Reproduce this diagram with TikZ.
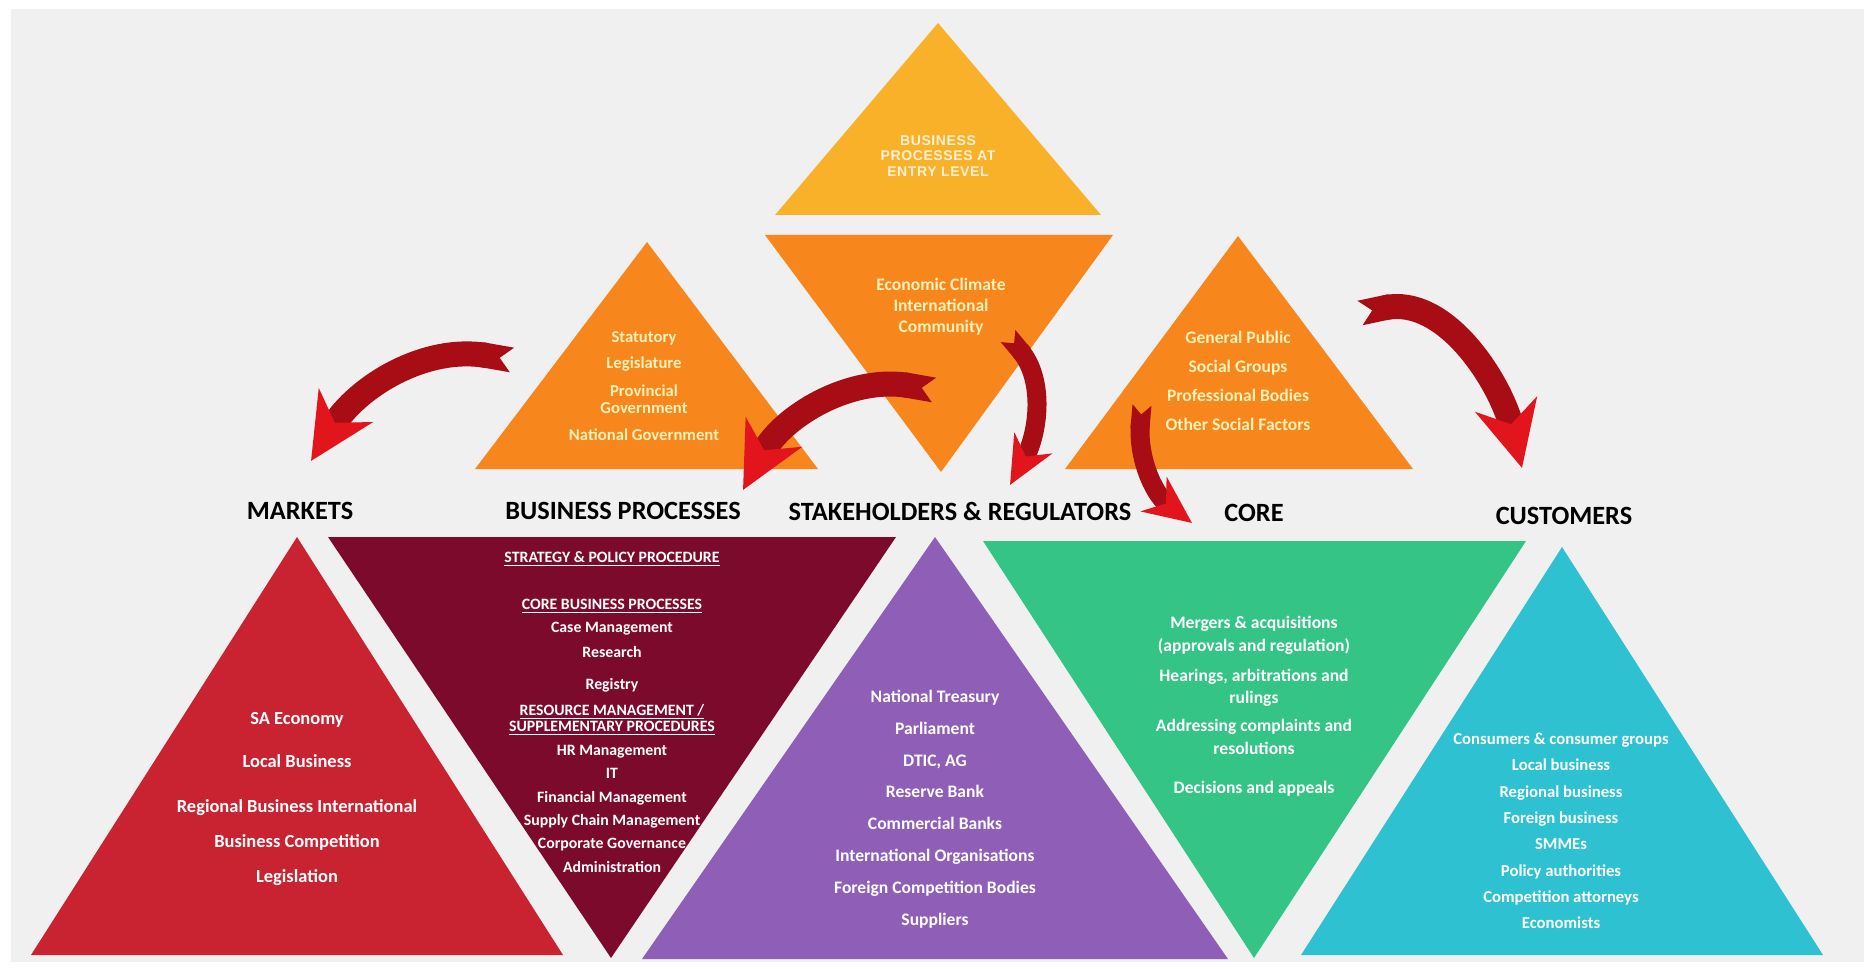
\documentclass[tikz,border=0pt]{standalone}
\usepackage{fontspec}
\setmainfont{Carlito}
\newfontfamily\entryfont[LetterSpace=4]{Liberation Sans}
\usepackage{tikz}
\usetikzlibrary{arrows, arrows.meta}
\usetikzlibrary{positioning}
\usepackage{xcolor}

\definecolor{bggrey}{HTML}{F1F0F0}
\definecolor{entryyellow}{HTML}{FAB12A}
\definecolor{factorange}{HTML}{F7871D}
\definecolor{marketred}{HTML}{C92231}
\definecolor{processmaroon}{HTML}{7B0A2C}
\definecolor{stakepurple}{HTML}{8F5FB8}
\definecolor{coregreen}{HTML}{34C486}
\definecolor{custcyan}{HTML}{2EC1D1}
\definecolor{arrowdark}{HTML}{A80D15}
\definecolor{arrowbright}{HTML}{E2141C}
\definecolor{paletext}{HTML}{FFF1B8}
\definecolor{entrytextcol}{HTML}{FDF0D8}

\tikzset{
  heading/.style={text=black, font=\fontsize{15}{18}\selectfont\bfseries},
  whitetext/.style={align=center, text=white},
  orangetext/.style={align=center, text=paletext},
  bigarrow/.style={line width=0.5cm, draw=arrowdark,
    {Triangle Cap[reversed]}-{Stealth[length=1.3cm, width=1.25cm, inset=0.4cm, color=arrowbright]}},
  smallarrow/.style={line width=0.38cm, draw=arrowdark,
    {Triangle Cap[reversed]}-{Stealth[length=0.95cm, width=0.85cm, inset=0.3cm, color=arrowbright]}},
}

\begin{document}
\begin{tikzpicture}[x=0.02cm, y=-0.02cm]

\useasboundingbox (0,0) rectangle (1872,969);
\fill[white] (0,0) rectangle (1872,969);
\fill[bggrey] (11,9) rectangle (1864,962);

%top triangles
\fill[entryyellow] (938,23) -- (1101,215) -- (775,215) -- cycle;
\fill[factorange] (647,242) -- (818,469) -- (475,469) -- cycle;
\fill[factorange] (765,235) -- (1113,235) -- (941,472) -- cycle;
\fill[factorange] (1238,236) -- (1413,469) -- (1065,469) -- cycle;

%bottom triangles
\fill[marketred] (297,537) -- (563,955) -- (31,955) -- cycle;
\fill[processmaroon] (328,537) -- (896,537) -- (611,958) -- cycle;
\fill[stakepurple] (935,537) -- (1228,959) -- (642,959) -- cycle;
\fill[coregreen] (983,541) -- (1526,541) -- (1254,958) -- cycle;
\fill[custcyan] (1562,547) -- (1823,955) -- (1301,955) -- cycle;

%top texts
\node [align=center, text=entrytextcol, font=\entryfont\fontsize{8}{9}\selectfont\bfseries] (entry) at (938,156)
  {BUSINESS\\PROCESSES AT\\ENTRY LEVEL};
\node [orangetext, font=\fontsize{9.5}{10}\selectfont\bfseries] (statutory) at (644,386)
  {Statutory\\[4.7pt]Legislature\\[5.9pt]Provincial\\Government\\[5.3pt]National Government};
\node [orangetext, font=\fontsize{10}{11.9}\selectfont\bfseries] (climate) at (941,307)
  {Economic Climate\\International\\Community};
\node [orangetext, font=\fontsize{10}{16.4}\selectfont\bfseries] (public) at (1238,381)
  {General Public\\Social Groups\\Professional Bodies\\Other Social Factors};

%labels
\node [heading] (markets) at (300,511) {MARKETS};
\node [heading] (processes) at (623,511) {BUSINESS PROCESSES};
\node [heading] (stakeholders) at (960,511) {STAKEHOLDERS \& REGULATORS};
\node [heading] (core) at (1254,513) {CORE};
\node [heading] (customers) at (1564,516) {CUSTOMERS};

%bottom texts
\node [whitetext, font=\fontsize{10.5}{19.8}\selectfont\bfseries] (economy) at (297,799)
  {SA Economy\\[4.5pt]Local Business\\[5.7pt]Regional Business International\\Business Competition\\Legislation};
\node [whitetext, font=\fontsize{9}{13.3}\selectfont\bfseries] (procedures) at (612,712)
  {\underline{STRATEGY \& POLICY PROCEDURE}\\[13.3pt]\underline{CORE BUSINESS PROCESSES}\\Case Management\\[0.8pt]Research\\[4.8pt]Registry\\[1.4pt]\underline{RESOURCE MANAGEMENT /}\\[-3.7pt]\underline{SUPPLEMENTARY PROCEDURES}\\HR Management\\IT\\Financial Management\\Supply Chain Management\\Corporate Governance\\Administration};
\node [whitetext, font=\fontsize{10}{18.1}\selectfont\bfseries] (treasury) at (935,809)
  {National Treasury\\Parliament\\DTIC, AG\\Reserve Bank\\Commercial Banks\\International Organisations\\Foreign Competition Bodies\\Suppliers};
\node [whitetext, font=\fontsize{10}{13}\selectfont\bfseries] (mergers) at (1254,706)
  {Mergers \& acquisitions\\(approvals and regulation)\\[4pt]Hearings, arbitrations and\\rulings\\[2.8pt]Addressing complaints and\\resolutions\\[9pt]Decisions and appeals};
\node [whitetext, font=\fontsize{9.5}{15}\selectfont\bfseries] (consumers) at (1561,831)
  {Consumers \& consumer groups\\Local business\\Regional business\\Foreign business\\SMMEs\\Policy authorities\\Competition attorneys\\Economists};

%arrows
\coordinate (a1tail) at (512,360);
\coordinate (a1tip) at (311,461);
\coordinate (a2tail) at (934,390);
\coordinate (a2tip) at (743,490);
\coordinate (a3tail) at (1008,336);
\coordinate (a3tip) at (1010,485);
\coordinate (a4tail) at (1142,405);
\coordinate (a4tip) at (1192,523);
\coordinate (a5tail) at (1360,313);
\coordinate (a5tip) at (1522,468);

\draw[bigarrow] (a1tail) to[out=170, in=58] (a1tip);
\draw[bigarrow] (a2tail) to[out=170, in=62] (a2tip);
\draw[smallarrow] (a3tail) to[out=-50, in=61] (a3tip);
\draw[smallarrow] (a4tail) to[out=-95, in=143] (a4tip);
\draw[bigarrow] (a5tail) to[out=12, in=104] (a5tip);

\end{tikzpicture}
\end{document}
